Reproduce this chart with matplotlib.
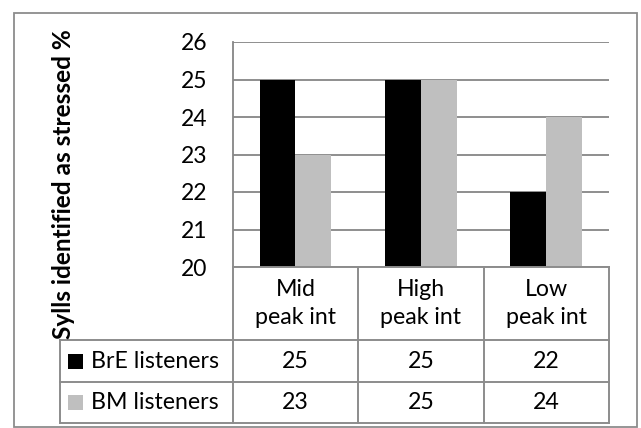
import matplotlib
matplotlib.use("Agg")
import matplotlib.pyplot as plt
from matplotlib import transforms
from matplotlib.patches import Rectangle
from matplotlib.lines import Line2D
import numpy as np

categories = ["Mid\npeak int", "High\npeak int", "Low\npeak int"]
series_names = ["BrE listeners", "BM listeners"]
bre_values = [25, 25, 22]
bm_values = [23, 25, 24]
y_ticks = [20, 21, 22, 23, 24, 25, 26]
y_label = "Sylls identified as stressed %"

colors = ["#000000", "#BFBFBF"]
grid_color = "#868686"
table_color = "#8C8C8C"
font = ["Lato", "DejaVu Sans"]
plt.rcParams["font.family"] = font
fs = 16.7

W, H = 641, 428
fig = plt.figure(figsize=(W / 100, H / 100), dpi=100)


def fx(x):
    return x / W


def fy(y):
    return 1 - y / H


# plot area (pixel box)
left, right, top, bottom = 232.7, 609.0, 42.0, 267.0
ax = fig.add_axes([fx(left), fy(bottom), fx(right - left), (bottom - top) / H])

n = len(categories)
x = np.arange(n)
bw = 0.286
ax.bar(x - bw / 2, bre_values, width=bw, color=colors[0], zorder=3)
ax.bar(x + bw / 2, bm_values, width=bw, color=colors[1], zorder=3)

ax.set_xlim(-0.5, n - 0.5)
ax.set_ylim(y_ticks[0], y_ticks[-1])
ax.set_yticks(y_ticks)
ax.set_yticklabels([str(t) for t in y_ticks], fontsize=16.5)
ax.tick_params(axis="y", length=0, pad=18)
ax.set_xticks([])
ax.yaxis.grid(True, color=grid_color, linewidth=1.3, zorder=0)
for s in ["top", "right", "bottom"]:
    ax.spines[s].set_visible(False)
ax.spines["left"].set_color(grid_color)
ax.spines["left"].set_linewidth(1.3)

# data table below the plot
blend = transforms.blended_transform_factory(ax.transData, fig.transFigure)
header_top, row1_top, row2_top, table_bottom = 267.0, 340.0, 382.0, 423.0
label_left = 60.0
lw = 1.4

def hline(x0, x1, y):
    fig.add_artist(Line2D([fx(x0), fx(x1)], [fy(y), fy(y)], color=table_color, lw=lw))

def vline(xp, y0, y1):
    fig.add_artist(Line2D([fx(xp), fx(xp)], [fy(y0), fy(y1)], color=table_color, lw=lw))

hline(left, right, header_top)
hline(label_left, right, row1_top)
hline(label_left, right, row2_top)
hline(label_left, right, table_bottom)
vline(label_left, row1_top, table_bottom)
for i in range(n + 1):
    # cell borders sit halfway between categories
    xb_px = ax.transData.transform((i - 0.5, 0))[0]
    vline(xb_px, header_top, table_bottom)

for i, cat in enumerate(categories):
    ax.text(i, fy((header_top + row1_top) / 2), cat, transform=blend,
            ha="center", va="center", fontsize=fs, linespacing=1.4)

rows = [bre_values, bm_values]
row_centers = [(row1_top + row2_top) / 2, (row2_top + table_bottom) / 2]
for r, (name, vals) in enumerate(zip(series_names, rows)):
    yc = row_centers[r]
    fig.add_artist(Rectangle((fx(68), fy(yc + 7.5)), fx(15), 15 / H,
                             facecolor=colors[r], edgecolor="none"))
    fig.text(fx(91), fy(yc), name, ha="left", va="center", fontsize=fs)
    for i, v in enumerate(vals):
        ax.text(i, fy(yc), str(v), transform=blend, ha="center", va="center",
                fontsize=fs)

fig.text(fx(64), fy(184), y_label, rotation=90, ha="center", va="center",
         fontsize=17.6, fontweight="bold")

# chart border
fig.add_artist(Rectangle((fx(14), fy(427)), fx(623), 414 / H, fill=False,
                         edgecolor="#8C8C8C", lw=1.3))

fig.savefig("out.png", dpi=100, facecolor="white")
